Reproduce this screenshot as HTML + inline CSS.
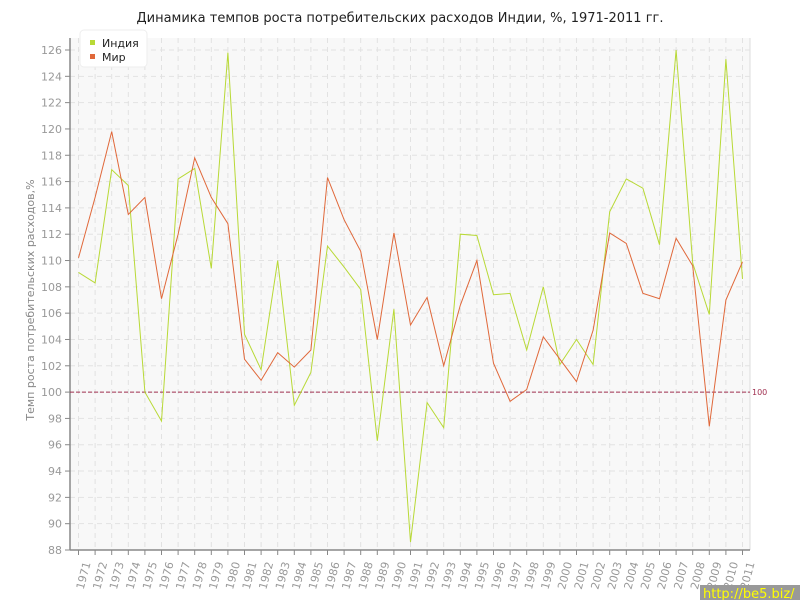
<!DOCTYPE html>
<html><head><meta charset="utf-8"><style>
body{margin:0;background:#fff;width:800px;height:600px;overflow:hidden;font-family:"Liberation Sans","DejaVu Sans",sans-serif}
</style></head><body>
<svg id="s" width="800" height="600" xmlns="http://www.w3.org/2000/svg" font-family="DejaVu Sans, Liberation Sans, sans-serif"></svg>
<script>
var I=[109.1,108.3,116.9,115.7,100.0,97.8,116.2,117.0,109.4,125.8,104.4,101.7,110.0,99.0,101.5,111.1,109.5,107.8,96.3,106.3,88.6,99.2,97.3,112.0,111.9,107.4,107.5,103.2,108.0,102.1,104.0,102.1,113.7,116.2,115.5,111.2,126.0,109.8,105.9,125.3,108.6];
var M=[110.2,114.8,119.8,113.5,114.8,107.1,112.0,117.8,114.8,112.8,102.5,100.9,103.0,101.9,103.2,116.3,113.1,110.7,104.0,112.1,105.1,107.2,102.0,106.6,110.0,102.2,99.3,100.2,104.2,102.5,100.8,104.7,112.1,111.3,107.5,107.1,111.7,109.6,97.4,107.0,109.9];
function X(i){return 78.5+i*16.6}
function Y(v){return 50+(126-v)*500/38}
var h='';
h+='<text x="400" y="22" text-anchor="middle" font-size="13" fill="#222">Динамика темпов роста потребительских расходов Индии, %, 1971-2011 гг.</text>';
h+='<rect x="70" y="38" width="680" height="512" fill="#f8f8f8"/>';
h+='<line x1="750" y1="38" x2="750" y2="550" stroke="#ddd"/>';
for(var i=0;i<=40;i++){var x=X(i);h+='<line x1="'+x+'" y1="38" x2="'+x+'" y2="550" stroke="#e2e2e2" stroke-dasharray="5,4"/>';
h+='<line x1="'+x+'" y1="550" x2="'+x+'" y2="555" stroke="#888"/>';
h+='<text transform="translate('+(x+5)+',590) rotate(-75)" font-size="11" fill="#999">'+(1971+i)+'</text>';}
for(var v=88;v<=126;v+=2){var y=Y(v);h+='<line x1="70" y1="'+y+'" x2="750" y2="'+y+'" stroke="#e2e2e2" stroke-dasharray="5,4"/>';
h+='<line x1="65" y1="'+y+'" x2="70" y2="'+y+'" stroke="#888"/>';
h+='<text x="62" y="'+(y+4)+'" text-anchor="end" font-size="11" fill="#999">'+v+'</text>';}
h+='<line x1="70" y1="38" x2="70" y2="550" stroke="#888" stroke-width="1.5"/><line x1="70" y1="550" x2="750" y2="550" stroke="#888" stroke-width="1.5"/>';
h+='<line x1="70" y1="'+Y(100)+'" x2="750" y2="'+Y(100)+'" stroke="#a03050" stroke-dasharray="4,2"/>';
h+='<text x="752" y="'+(Y(100)+3)+'" font-size="8" fill="#a03050">100</text>';
function pl(d,c){var p=d.map(function(v,i){return X(i).toFixed(1)+','+Y(v).toFixed(1)}).join(' ');return '<polyline points="'+p+'" fill="none" stroke="'+c+'" stroke-width="1"/>'}
h+=pl(I,'#b8d936');h+=pl(M,'#e0683a');
h+='<text transform="translate(34,300) rotate(-90)" text-anchor="middle" font-size="11" fill="#888">Темп роста потребительских расходов,%</text>';
h+='<rect x="80" y="30" width="67" height="37" rx="4" fill="#fff" stroke="#eee"/>';
h+='<rect x="90" y="40" width="5" height="5" fill="#b8d936"/><text x="102" y="47" font-size="11" fill="#222">Индия</text>';
h+='<rect x="90" y="54" width="5" height="5" fill="#e0683a"/><text x="102" y="61" font-size="11" fill="#222">Мир</text>';
h+='<rect x="700" y="585" width="100" height="15" fill="#999"/><text x="703" y="598" font-size="13" fill="#ffff00">http://be5.biz/</text>';
document.getElementById('s').innerHTML=h;
</script>
</body></html>
